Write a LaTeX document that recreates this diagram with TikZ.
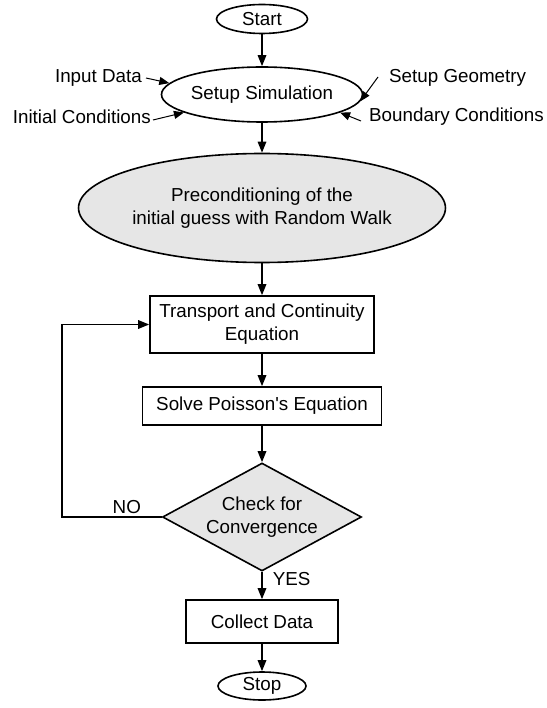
\documentclass[tikz,border=0pt]{standalone}
\usepackage{fontspec}
\setmainfont{Liberation Sans}
\usetikzlibrary{shapes.geometric,arrows.meta}
\definecolor{shade}{HTML}{E6E6E6}
\begin{document}
\begin{tikzpicture}[x=1pt,y=-1pt,
  every node/.style={font=\fontsize{18.8}{23}\selectfont, align=center, inner sep=0pt},
  line/.style={line width=1.6pt},
  flow/.style={line, -{Triangle[length=11pt,width=8.5pt]}},
  side/.style={line width=1pt, -{Triangle[length=10pt,width=8pt]}},
  oval/.style={draw, line width=1.6pt, ellipse},
  stepbox/.style={draw, line width=1.6pt, rectangle},
  decision/.style={draw, line width=1.6pt, diamond, fill=shade, aspect=1.85},
]
\useasboundingbox (0,0) rectangle (546,708);

% main column
\node[oval, minimum width=91pt, minimum height=29pt] (start) at (262,19) {Start};
\node[oval, minimum width=197pt, minimum height=55pt] (setup) at (262,94.5) {Setup Simulation};
\node[oval, fill=shade, minimum width=262pt, minimum height=109pt] (precond) at (262,208)
  {Preconditioning of the\\initial guess with Random Walk};
\node[stepbox, minimum width=224pt, minimum height=57pt] (transport) at (262,324.5)
  {Transport and Continuity\\Equation};
\node[stepbox, minimum width=239pt, minimum height=38pt] (poisson) at (262,406)
  {Solve Poisson\textquotesingle s Equation};
\node[decision, minimum width=199pt, minimum height=108pt] (check) at (262,517)
  {Check for\\Convergence};
\node[stepbox, minimum width=152pt, minimum height=43pt] (collect) at (262,621.5) {Collect Data};
\node[oval, minimum width=88pt, minimum height=28pt] (stop) at (262,686) {Stop};

% inputs of the setup step
\node[anchor=east] (input) at (142,78) {Input Data};
\node[anchor=east] (initial) at (151,117) {Initial Conditions};
\node[anchor=west] (geometry) at (389,78) {Setup Geometry};
\node[anchor=west] (boundary) at (369,117) {Boundary Conditions};

\draw[side] (146,78) -- (setup.173);
\draw[side] (153,120) -- (setup.193);
\draw[side] (378,77) -- (setup.-4);
\draw[side] (361,121) -- (setup.-13);

% flow
\draw[flow] (start) -- (setup);
\draw[flow] (setup) -- (precond);
\draw[flow] (precond) -- (transport);
\draw[flow] (transport) -- (poisson);
\draw[flow] (poisson) -- (check);
\draw[flow] (check) -- node[anchor=west, xshift=10pt, yshift=6pt] {YES} (collect);
\draw[flow] (collect) -- (stop);

% loop back
\coordinate (loopbot) at (62,517);
\coordinate (looptop) at (62,324.5);
\draw[flow] (check.west) -- node[above=3pt, pos=0.35] {NO} (loopbot) -- (looptop) -- (transport.west);
\end{tikzpicture}
\end{document}
